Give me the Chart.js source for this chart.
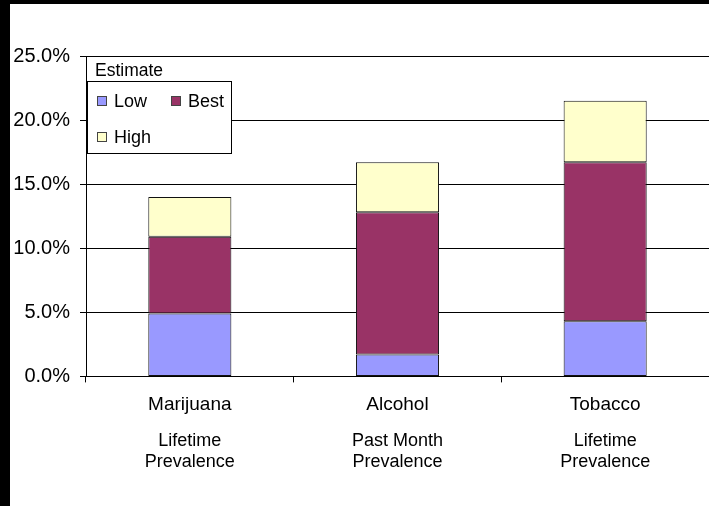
<!DOCTYPE html>
<html>
<head>
<meta charset="utf-8">
<script src="https://cdn.jsdelivr.net/npm/chart.js@4.4.1/dist/chart.umd.min.js"></script>
<style>
  html, body { margin: 0; padding: 0; background: #000; width: 709px; height: 506px; overflow: hidden; }
  #frame { position: absolute; left: 10px; top: 4px; width: 699px; height: 502px; background: #fff; }
  #frame canvas { display: block; }
  #legendTitle {
    position: absolute; left: 85px; top: 56px;
    font: 17.5px/20px "Liberation Sans", Arial, sans-serif; color: #000;
  }
  #legendBox {
    position: absolute; left: 77px; top: 77px; width: 145px; height: 73px;
    box-sizing: border-box; border: 1px solid #000; background: #fff;
  }
  .item {
    position: absolute; display: flex; align-items: center; height: 20px;
    font: 18px/20px "Liberation Sans", Arial, sans-serif; color: #000; white-space: nowrap;
  }
  .swatch { width: 10px; height: 10px; box-sizing: border-box; border: 1px solid #444; margin-right: 7px; }
</style>
</head>
<body>
<div id="frame">
  <canvas id="chart" width="699" height="502"></canvas>
  <div id="legendTitle">Estimate</div>
  <div id="legendBox"></div>
</div>
<script>
// Estimated prevalence by substance (percent), stacked Low / Best / High
const categories = ['Marijuana', 'Alcohol', 'Tobacco'];
const prevalence = [['Lifetime', 'Prevalence'], ['Past Month', 'Prevalence'], ['Lifetime', 'Prevalence']];
const seriesNames = ['Low', 'Best', 'High'];
const low = [4.9, 1.7, 4.3];
const best = [6.0, 11.1, 12.4];
const high = [3.1, 3.9, 4.8];
const yTicks = [0, 5, 10, 15, 20, 25];
const legendTitle = 'Estimate';

const seriesColors = ['#9999FF', '#993366', '#FFFFCC'];
const FONT = '"Liberation Sans", Arial, sans-serif';

const barStyle = {
  borderColor: '#111',
  borderWidth: 1,
  borderSkipped: false,
  barPercentage: 0.4,
  categoryPercentage: 1.0
};

const chart = new Chart(document.getElementById('chart'), {
  type: 'bar',
  data: {
    labels: categories,
    datasets: [low, best, high].map((values, i) => Object.assign({
      label: seriesNames[i],
      data: values,
      backgroundColor: seriesColors[i],
      stack: 'estimate'
    }, barStyle))
  },
  options: {
    responsive: false,
    devicePixelRatio: 1,
    animation: false,
    layout: { padding: { top: 52, right: 0, bottom: 30, left: 0 } },
    plugins: {
      legend: { display: false },
      tooltip: { enabled: false },
      title: { display: false }
    },
    scales: {
      x: {
        type: 'category',
        stacked: true,
        offset: true,
        grid: { drawOnChartArea: false, drawTicks: true, tickLength: 6, color: '#000', offset: true },
        border: { color: '#000' },
        ticks: { color: '#000', padding: 12, font: { family: FONT, size: 19, lineHeight: 21.6 / 19 } }
      },
      x2: {
        type: 'category',
        position: 'bottom',
        labels: prevalence,
        offset: true,
        grid: { display: false, drawTicks: false },
        border: { display: false },
        ticks: { color: '#000', padding: 3, font: { family: FONT, size: 18, lineHeight: 21 / 18 } }
      },
      y: {
        stacked: true,
        min: yTicks[0],
        max: yTicks[yTicks.length - 1],
        afterFit: scale => { scale.width = 76; },
        afterBuildTicks: scale => { scale.ticks = yTicks.map(v => ({ value: v })); },
        grid: { color: '#000', lineWidth: 1, tickLength: 6 },
        border: { color: '#000' },
        ticks: {
          color: '#000', padding: 10,
          font: { family: FONT, size: 20 },
          callback: v => Number(v).toFixed(1) + '%'
        }
      }
    }
  }
});

// Legend items built from the chart's own datasets
document.getElementById('legendTitle').textContent = legendTitle;
const box = document.getElementById('legendBox');
chart.data.datasets.forEach((ds, i) => {
  const item = document.createElement('div');
  item.className = 'item';
  item.style.left = (9 + (i % 2) * 74) + 'px';
  item.style.top = (8.5 + Math.floor(i / 2) * 36) + 'px';
  const sw = document.createElement('span');
  sw.className = 'swatch';
  sw.style.background = ds.backgroundColor;
  const label = document.createElement('span');
  label.textContent = ds.label;
  item.appendChild(sw);
  item.appendChild(label);
  box.appendChild(item);
});
</script>
</body>
</html>
